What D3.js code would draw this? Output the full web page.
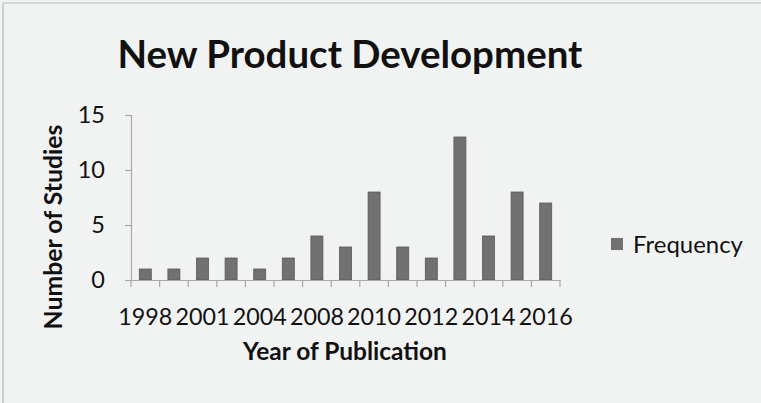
<!DOCTYPE html>
<html>
<head>
<meta charset="utf-8">
<script src="https://cdn.jsdelivr.net/npm/d3@7"></script>
<style>
  html, body { margin: 0; padding: 0; background: #f1f3f3; }
  svg { display: block; }
  text { font-family: Lato, "Open Sans", sans-serif; fill: #111; }
</style>
</head>
<body>
<svg id="chart" width="761" height="403"></svg>
<script>
// Publications per year
const years = ["1998", "2000", "2001", "2003", "2004", "2006", "2008", "2009",
               "2010", "2011", "2012", "2013", "2014", "2015", "2016"];
const frequency = [1, 1, 2, 2, 1, 2, 4, 3, 8, 3, 2, 13, 4, 8, 7];
const yTicks = [0, 5, 10, 15];
const seriesName = "Frequency";

const svg = d3.select("#chart");
const W = 761, H = 403;

// panel frame
svg.append("rect").attr("x", 0).attr("y", 0).attr("width", W).attr("height", H).attr("fill", "#f1f3f3");
svg.append("line").attr("x1", 3).attr("x2", 3).attr("y1", 3).attr("y2", H).attr("stroke", "#c9cdcd").attr("stroke-width", 2);
svg.append("line").attr("x1", 3).attr("x2", W).attr("y1", 3).attr("y2", 3).attr("stroke", "#d3d6d6").attr("stroke-width", 2);

const plot = { left: 131, right: 560, top: 115, bottom: 280 };

const x = d3.scaleBand().domain(years).range([plot.left, plot.right]).paddingInner(0.58).paddingOuter(0.29);
const y = d3.scaleLinear().domain([0, 15]).range([plot.bottom, plot.top]);

// fit a text element to a target width by adjusting its font size
function fitWidth(sel, width) {
  const node = sel.node();
  const fs = parseFloat(sel.attr("font-size"));
  const w = node.getComputedTextLength();
  sel.attr("font-size", (fs * width / w).toFixed(2));
}

// bars
svg.append("g").selectAll("rect").data(years).join("rect")
  .attr("x", d => x(d))
  .attr("width", x.bandwidth())
  .attr("y", (d, i) => y(frequency[i]))
  .attr("height", (d, i) => y(0) - y(frequency[i]))
  .attr("fill", "#717171")
  .attr("stroke", "#595959")
  .attr("stroke-width", 0.8);

// y axis
const yAxis = svg.append("g").attr("transform", `translate(${plot.left},0)`)
  .call(d3.axisLeft(y).tickValues(yTicks).tickSize(6).tickPadding(20));
yAxis.select(".domain").attr("stroke", "#a8a8a8").attr("stroke-width", 1.2);
yAxis.selectAll(".tick line").attr("stroke", "#a8a8a8").attr("stroke-width", 1.2);
yAxis.selectAll(".tick text").attr("font-size", 23.5).attr("fill", "#222")
  .style("font-family", "Lato, sans-serif");

// x axis with boundary ticks between categories
const xAxis = svg.append("g").attr("transform", `translate(0,${plot.bottom})`)
  .call(d3.axisBottom(x).tickSizeOuter(0).tickSize(0).tickPadding(28)
    .tickFormat((d, i) => i % 2 === 0 ? d : ""));
xAxis.select(".domain").attr("stroke", "#a8a8a8").attr("stroke-width", 1.2);
xAxis.selectAll(".tick text").attr("font-size", 22).attr("fill", "#222")
  .style("font-family", "Lato, sans-serif").attr("dy", "0.71em");
const step = x.step();
const bounds = d3.range(years.length + 1).map(i => plot.left + i * step);
xAxis.selectAll(".bound").data(bounds).join("line").attr("class", "bound")
  .attr("x1", d => d).attr("x2", d => d).attr("y1", 0).attr("y2", 7)
  .attr("stroke", "#a8a8a8").attr("stroke-width", 1.2);
xAxis.selectAll(".tick text").each(function () {
  const t = d3.select(this);
  if (t.text()) fitWidth(t, 54);
});

// title
const title = svg.append("text").attr("x", 350).attr("y", 68).attr("text-anchor", "middle")
  .attr("font-size", 38).attr("font-weight", "bold").text("New Product Development");
fitWidth(title, 465);

// axis titles
const xTitle = svg.append("text").attr("x", 345).attr("y", 360).attr("text-anchor", "middle")
  .attr("font-size", 20).attr("font-weight", "bold").text("Year of Publication");
fitWidth(xTitle, 204);

const yTitle = svg.append("text").attr("transform", "translate(62,227) rotate(-90)")
  .attr("text-anchor", "middle").attr("font-size", 20).attr("font-weight", "bold").text("Number of Studies");
fitWidth(yTitle, 205);

// legend
const legend = svg.append("g").attr("transform", "translate(611,238)");
legend.append("rect").attr("width", 12).attr("height", 12).attr("fill", "#717171");
const lt = legend.append("text").attr("x", 22).attr("y", 6).attr("dy", "0.36em")
  .attr("font-size", 22).attr("fill", "#222").text(seriesName);
fitWidth(lt, 110);
</script>
</body>
</html>
